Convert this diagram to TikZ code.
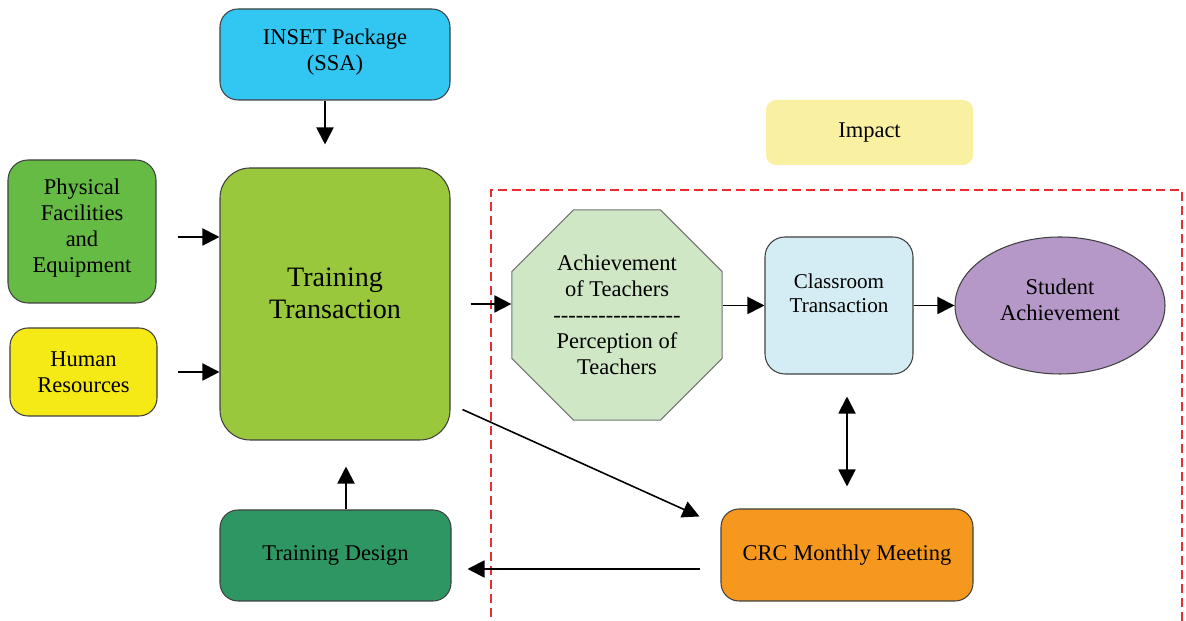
\documentclass[tikz,border=0pt]{standalone}
\usepackage{fontspec}
\setmainfont{Liberation Serif}
\usetikzlibrary{arrows.meta,shapes.geometric}

\definecolor{insetblue}{RGB}{50,198,243}
\definecolor{physgreen}{RGB}{102,187,68}
\definecolor{humyellow}{RGB}{245,233,22}
\definecolor{trangreen}{RGB}{153,200,60}
\definecolor{desgreen}{RGB}{46,150,98}
\definecolor{impyellow}{RGB}{250,240,162}
\definecolor{achgreen}{RGB}{208,231,198}
\definecolor{clsblue}{RGB}{212,236,243}
\definecolor{stupurple}{RGB}{181,152,200}
\definecolor{crcorange}{RGB}{247,152,30}
\definecolor{zonered}{RGB}{232,44,50}

\newcommand\dashrow{\foreach\i in {1,...,17}{\mbox{-}}}

\begin{document}
\begin{tikzpicture}[>={Triangle[length=0.34cm,width=0.34cm]},
    box/.style={draw=black!75,line width=0.6pt,rounded corners=0.36cm,align=center,
      inner sep=2pt,font=\fontsize{12.8}{14.8}\selectfont},
    link/.style={->,line width=1.1pt}]
    \useasboundingbox (0,0) rectangle (23.72,12.42);

    % dashed zone, open at the bottom
    \draw[zonered,line width=0.8pt,dash pattern=on 0.18cm off 0.1cm]
      (9.82,-0.2) -- (9.82,8.62) -- (23.64,8.62) -- (23.64,-0.2);

    % inputs
    \node[box,fill=insetblue,minimum width=4.6cm,minimum height=1.82cm] (inset) at (6.70,11.33) {INSET Package\\(SSA)\\[-9pt]~};
    \node[box,fill=physgreen,minimum width=2.96cm,minimum height=2.86cm,rounded corners=0.4cm] (phys) at (1.64,7.79) {Physical\\Facilities\\and\\Equipment\\[-8pt]~};
    \node[box,fill=humyellow,minimum width=2.94cm,minimum height=1.76cm] (hum) at (1.67,4.98) {Human\\Resources};
    \node[box,fill=trangreen,minimum width=4.6cm,minimum height=5.44cm,rounded corners=0.6cm,
      font=\fontsize{16}{18}\selectfont] (tt) at (6.70,6.34) {Training\\Transaction\\[-6pt]~};
    \node[box,fill=desgreen,minimum width=4.62cm,minimum height=1.82cm] (td) at (6.71,1.31) {Training Design};

    % outcomes
    \node[box,draw=none,fill=impyellow,minimum width=4.14cm,minimum height=1.3cm,rounded corners=0.2cm] (imp) at (17.39,9.77) {\raisebox{-3pt}{Impact}};
    \node[box,regular polygon,regular polygon sides=8,minimum size=4.55cm,rounded corners=0pt,
      draw=black!55,fill=achgreen] (ach) at (12.34,6.12) {Achievement\\of Teachers\\\dashrow\\Perception of\\Teachers};
    \node[box,fill=clsblue,minimum width=2.96cm,minimum height=2.74cm,rounded corners=0.4cm,
      font=\fontsize{12}{13.6}\selectfont] (cls) at (16.78,6.31) {Classroom\\Transaction\\~};
    \node[box,ellipse,fill=stupurple,minimum width=4.2cm,minimum height=2.74cm] (stu) at (21.20,6.31) {Student\\Achievement\\[-8pt]~};
    \node[box,fill=crcorange,minimum width=5.04cm,minimum height=1.84cm] (crc) at (16.94,1.32) {CRC Monthly Meeting};

    % connectors
    \draw[link,shorten >=0.46cm] ([xshift=-0.2cm]inset.south) -- ([xshift=-0.2cm]inset.south |- tt.north);
    \draw[link,shorten <=0.42cm] ([yshift=-0.11cm]phys.east) -- ([yshift=-0.11cm]phys.east -| tt.west);
    \draw[link,shorten <=0.4cm] (hum.east) -- (hum.east -| tt.west);
    \draw[link,shorten <=0.4cm] (tt.east) -- (tt.east -| ach.west);
    \draw[link] (cls.west -| ach.east) -- (cls.west);
    \draw[link] (cls.east) -- (stu.west);
    \draw[link,<->,shorten <=0.44cm,shorten >=0.44cm] (crc.north) -- (crc.north |- cls.south);
    \draw[link,line width=0.9pt] ([shift={(0.24cm,0.62cm)}]tt.south east) -- ([shift={(-0.42cm,-0.16cm)}]crc.north west);
    \draw[link,shorten <=0.4cm,shorten >=0.32cm] ([yshift=-0.28cm]crc.west) -- ([yshift=-0.28cm]crc.west -| td.east);
    \draw[link,shorten >=0.52cm] ([xshift=0.21cm]td.north) -- ([xshift=0.21cm]td.north |- tt.south);
  \end{tikzpicture}
\end{document}
